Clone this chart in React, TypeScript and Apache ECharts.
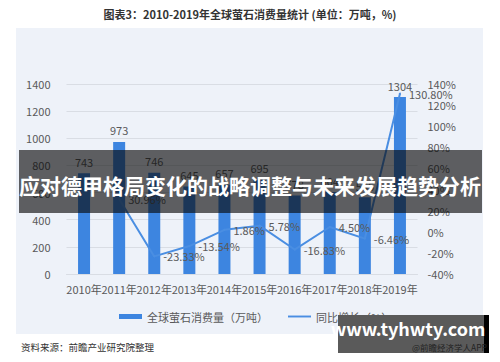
import React, { useEffect, useRef } from "react";
import * as echarts from "echarts";

const years = ["2010年", "2011年", "2012年", "2013年", "2014年", "2015年", "2016年", "2017年", "2018年", "2019年"];
const consumption = [743, 973, 746, 645, 657, 695, 578, 604, 565, 1304];
const growth: (number | null)[] = [null, 30.96, -23.33, -13.54, 1.86, 5.78, -16.83, 4.5, -6.46, 130.8];
const leftTicks = { min: 0, max: 1400, interval: 200 };
const rightTicks = { min: -40, max: 140, interval: 20 };

const FONT = "'Noto Sans CJK SC', 'Noto Sans', sans-serif";
const GREY = "#595959";

export default function App() {
  const ref = useRef<HTMLDivElement>(null);
  useEffect(() => {
    if (!ref.current) return;
    const chart = echarts.init(ref.current, null, { renderer: "svg" });
    chart.setOption({
      animation: false,
      textStyle: { fontFamily: FONT },
      graphic: [
        { type: "rect", z: -10, shape: { x: 16, y: 28, width: 467, height: 306 }, style: { fill: "#eef2f9" } },
        {
          type: "text", z: 10, x: 250, y: 14,
          style: { text: "图表3：2010-2019年全球萤石消费量统计 (单位：万吨，%)", fill: "#333", font: `bold 11px ${FONT}`, align: "center", verticalAlign: "middle" },
        },
        {
          type: "text", z: 10, x: 21, y: 347,
          style: { text: "资料来源：前瞻产业研究院整理", fill: "#333", font: `9.5px ${FONT}`, align: "left", verticalAlign: "middle" },
        },
        { type: "rect", z: 100, shape: { x: 19, y: 150, width: 463, height: 63 }, style: { fill: "rgba(8,8,8,0.63)" } },
        {
          type: "text", z: 101, x: 250, y: 185,
          style: { text: "应对德甲格局变化的战略调整与未来发展趋势分析", fill: "#ffffff", font: `bold 21px ${FONT}`, align: "center", verticalAlign: "middle" },
        },
        { type: "rect", z: 100, shape: { x: 338, y: 315, width: 146, height: 38 }, style: { fill: "#5a5a5a" } },
        { type: "rect", z: 100, shape: { x: 484, y: 315, width: 5, height: 38 }, style: { fill: "#000" } },
        {
          type: "text", z: 101, x: 408, y: 328,
          style: { text: "www.tyhwty.com", fill: "#ffffff", font: `bold 18px ${FONT}`, align: "center", verticalAlign: "middle" },
        },
        {
          type: "text", z: 101, x: 487, y: 347,
          style: { text: "@前瞻经济学人APP", fill: "#222", font: `8.5px ${FONT}`, align: "right", verticalAlign: "middle" },
        },
      ],
      grid: { left: 66.5, right: 82.5, top: 84, bottom: 88, containLabel: false },
      legend: {
        left: 114, top: 306, itemGap: 20,
        textStyle: { color: GREY, fontSize: 11, fontFamily: FONT },
        data: [
          { name: "全球萤石消费量（万吨）", icon: "rect", itemStyle: { color: "#3d85e0" } },
          { name: "同比增长（%）", icon: "path://M0,0 L24,0 L24,2 L0,2 Z" },
        ],
        itemWidth: 23, itemHeight: 5,
      },
      xAxis: {
        type: "category", data: years,
        axisLine: { lineStyle: { color: "#d9dde4" } },
        axisTick: { show: false },
        axisLabel: { color: GREY, fontSize: 11, interval: 0, margin: 9 },
      },
      yAxis: [
        {
          type: "value", ...leftTicks,
          axisLabel: { color: GREY, fontSize: 11, margin: 16, formatter: (v: number) => String(v) },
          axisLine: { show: false }, axisTick: { show: false },
          splitLine: { lineStyle: { color: "#d9dde4" } },
        },
        {
          type: "value", ...rightTicks,
          axisLabel: { color: GREY, fontSize: 11, margin: 10, formatter: "{value}%" },
          axisLine: { show: false }, axisTick: { show: false },
          splitLine: { show: false },
        },
      ],
      series: [
        {
          name: "全球萤石消费量（万吨）", type: "bar", data: consumption, barWidth: 12,
          itemStyle: { color: "#3d85e0" },
          label: { show: true, position: "top", color: GREY, fontSize: 11, distance: 6 },
        },
        {
          name: "同比增长（%）", type: "line", yAxisIndex: 1, data: growth,
          symbol: "circle", symbolSize: 2, connectNulls: false,
          lineStyle: { color: "#4a8ee2", width: 2 },
          itemStyle: { color: "#4a8ee2" },
          label: {
            show: true, position: "right", distance: 8, color: GREY, fontSize: 11,
            formatter: (p: any) => Number(p.value).toFixed(2) + "%",
          },
        },
      ],
    });
    return () => chart.dispose();
  }, []);
  return (
    <div style={{ position: "fixed", left: 0, top: 0, width: 500, height: 362, background: "#fff" }}>
      <div ref={ref} style={{ width: 500, height: 362 }} />
    </div>
  );
}
